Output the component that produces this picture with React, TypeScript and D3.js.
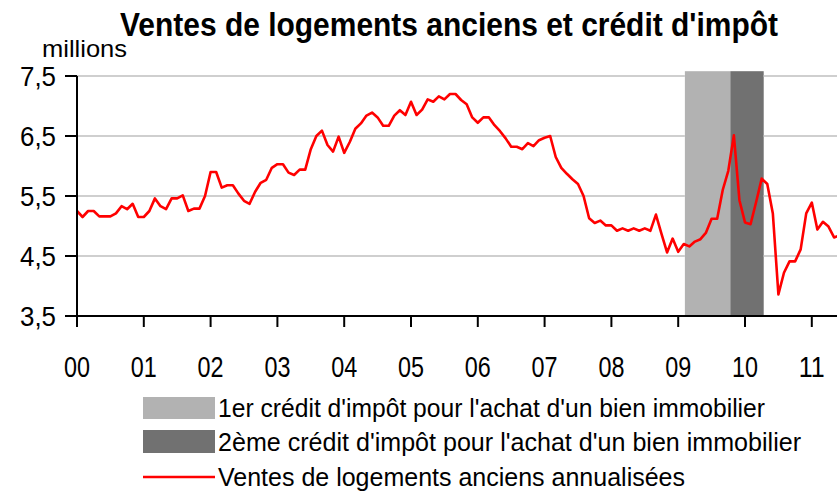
import React from "react";
import * as d3 from "d3";

const yearLabels = ["00", "01", "02", "03", "04", "05", "06", "07", "08", "09", "10", "11"];
const yTickValues = [3.5, 4.5, 5.5, 6.5, 7.5];

// monthly annualised sales (millions), Jan 2000 onwards
const sales2000 = [5.25, 5.15, 5.25, 5.25, 5.16, 5.16, 5.16, 5.21, 5.33, 5.28, 5.37, 5.15];
const sales2001 = [5.15, 5.25, 5.46, 5.33, 5.28, 5.46, 5.46, 5.51, 5.25, 5.29, 5.29, 5.5];
const sales2002 = [5.9, 5.9, 5.64, 5.68, 5.68, 5.54, 5.42, 5.37, 5.57, 5.72, 5.77, 5.97];
const sales2003 = [6.03, 6.03, 5.89, 5.85, 5.94, 5.94, 6.28, 6.5, 6.59, 6.35, 6.24, 6.49];
const sales2004 = [6.22, 6.4, 6.62, 6.71, 6.84, 6.89, 6.81, 6.67, 6.67, 6.84, 6.93, 6.85];
const sales2005 = [7.07, 6.85, 6.94, 7.11, 7.07, 7.16, 7.11, 7.2, 7.2, 7.1, 7.03, 6.81];
const sales2006 = [6.72, 6.81, 6.81, 6.68, 6.58, 6.46, 6.32, 6.32, 6.28, 6.38, 6.33, 6.43];
const sales2007 = [6.47, 6.5, 6.15, 5.97, 5.87, 5.78, 5.7, 5.5, 5.13, 5.05, 5.09, 5.01];
const sales2008 = [5.01, 4.92, 4.96, 4.92, 4.96, 4.92, 4.96, 4.92, 5.19, 4.87, 4.56, 4.79];
const sales2009 = [4.57, 4.7, 4.66, 4.74, 4.78, 4.89, 5.12, 5.12, 5.6, 5.92, 6.51, 5.43];
const sales2010 = [5.06, 5.03, 5.4, 5.79, 5.7, 5.21, 3.86, 4.22, 4.41, 4.41, 4.61, 5.21];
const sales2011 = [5.39, 4.94, 5.07, 4.99, 4.81, 4.84];

const sales = [
  ...sales2000, ...sales2001, ...sales2002, ...sales2003, ...sales2004, ...sales2005,
  ...sales2006, ...sales2007, ...sales2008, ...sales2009, ...sales2010, ...sales2011,
];

// tax-credit periods, in years since Jan 2000
const credit1 = [9.1, 9.78];
const credit2 = [9.78, 10.28];
const bandTopValue = 7.58;

const titleText = "Ventes de logements anciens et crédit d'impôt";
const legendLabels = [
  "1er crédit d'impôt pour l'achat d'un bien immobilier",
  "2ème crédit d'impôt pour l'achat d'un bien immobilier",
  "Ventes de logements anciens annualisées",
];

const FONT = "'Liberation Sans Narrow', 'Liberation Sans', Arial, sans-serif";

export default function App() {
  const W = 837;
  const H = 491;
  const left = 77;
  const right = 837;
  const top = 76;
  const bottom = 316;

  const x = d3.scaleLinear().domain([0, 11]).range([left, left + 66.8 * 11]);
  const y = d3.scaleLinear().domain([3.5, 7.5]).range([bottom, top]);

  const line = d3
    .line<number>()
    .x((_, i) => x(i / 12))
    .y((d) => y(d));

  const fmt = (v: number) => d3.format(".1f")(v).replace(".", ",");
  const titleScale = 0.75;

  return (
    <svg
      width={W}
      height={H}
      style={{ position: "absolute", left: 0, top: 0, background: "#fff" }}
      fontFamily={FONT}
    >
      <defs>
        <clipPath id="plot">
          <rect x={left} y={0} width={right - left} height={bottom} />
        </clipPath>
      </defs>

      {/* bands */}
      <rect
        x={x(credit1[0])}
        y={y(bandTopValue)}
        width={x(credit1[1]) - x(credit1[0])}
        height={bottom - y(bandTopValue)}
        fill="#b2b2b2"
      />
      <rect
        x={x(credit2[0])}
        y={y(bandTopValue)}
        width={x(credit2[1]) - x(credit2[0])}
        height={bottom - y(bandTopValue)}
        fill="#717171"
      />

      {/* gridlines */}
      {yTickValues.slice(1).map((v) => (
        <g key={v}>
          <line x1={left} x2={x(credit1[0])} y1={y(v)} y2={y(v)} stroke="#cfcfcf" strokeWidth={2.2} />
          <line x1={x(credit2[1])} x2={right} y1={y(v)} y2={y(v)} stroke="#cfcfcf" strokeWidth={2.2} />
        </g>
      ))}

      {/* line */}
      <path
        d={line(sales) || ""}
        fill="none"
        stroke="#ff0000"
        strokeWidth={2.6}
        strokeLinejoin="round"
        clipPath="url(#plot)"
      />

      {/* y axis */}
      <line x1={left} x2={left} y1={top} y2={bottom} stroke="#000" strokeWidth={2} />
      {yTickValues.map((v) => (
        <g key={v}>
          <line x1={left - 12} x2={left} y1={y(v)} y2={y(v)} stroke="#000" strokeWidth={2} />
          <text
            x={56}
            y={y(v) + 10}
            textAnchor="end"
            fontSize={28}
            fill="#000"
            textLength={36}
            lengthAdjust="spacingAndGlyphs"
          >
            {fmt(v)}
          </text>
        </g>
      ))}

      {/* x axis */}
      <line x1={left - 12} x2={right} y1={bottom} y2={bottom} stroke="#000" strokeWidth={2} />
      {yearLabels.map((lab, i) => (
        <g key={lab}>
          <line x1={x(i)} x2={x(i)} y1={bottom} y2={bottom + 11} stroke="#000" strokeWidth={2} />
          <text
            x={x(i)}
            y={377}
            textAnchor="middle"
            fontSize={29}
            fill="#000"
            textLength={26}
            lengthAdjust="spacingAndGlyphs"
          >
            {lab}
          </text>
        </g>
      ))}

      {/* title */}
      <g transform={`translate(120,36) scale(${titleScale},1)`}>
        <text
          x={0}
          y={0}
          fontSize={33}
          fontWeight="bold"
          fill="#000"
          textLength={658 / titleScale}
          lengthAdjust="spacingAndGlyphs"
        >
          {titleText}
        </text>
      </g>
      <text x={42} y={57} fontSize={24} fill="#000" textLength={85} lengthAdjust="spacingAndGlyphs">
        millions
      </text>

      {/* legend */}
      <rect x={143} y={397} width={72} height={22} fill="#b2b2b2" />
      <rect x={143} y={430} width={72} height={23} fill="#717171" />
      <line x1={143} x2={215} y1={477} y2={477} stroke="#ff0000" strokeWidth={2.6} />
      <text x={218} y={417} fontSize={25} textLength={547} lengthAdjust="spacingAndGlyphs">
        {legendLabels[0]}
      </text>
      <text x={218} y={451} fontSize={25} textLength={583} lengthAdjust="spacingAndGlyphs">
        {legendLabels[1]}
      </text>
      <text x={218} y={486} fontSize={25} textLength={467} lengthAdjust="spacingAndGlyphs">
        {legendLabels[2]}
      </text>
    </svg>
  );
}
